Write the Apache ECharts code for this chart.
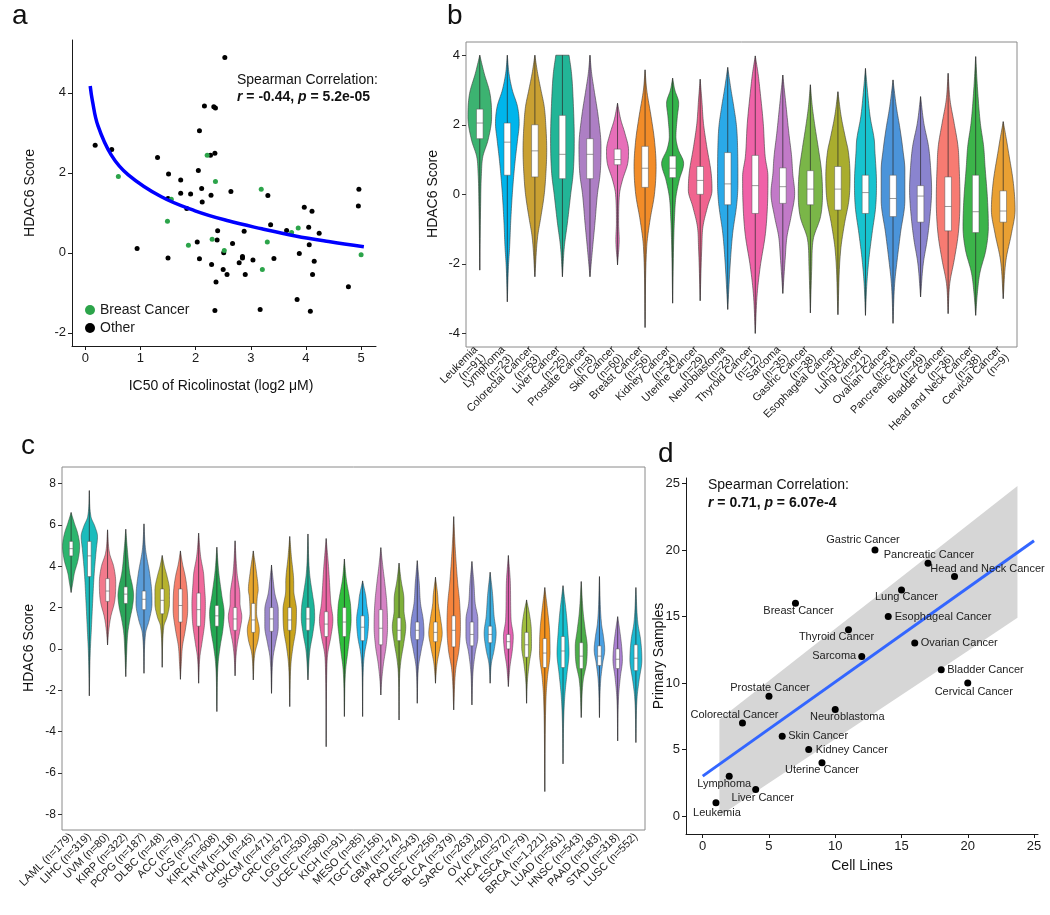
<!DOCTYPE html>
<html><head><meta charset="utf-8">
<script src="https://cdn.jsdelivr.net/npm/echarts@6/dist/echarts.min.js"></script>
<style>html,body{margin:0;padding:0;background:#fff}#chart{width:1050px;height:915px}</style>
</head><body><div id="chart"></div>
<script>
// ================= DATA =================
// ---- Panel a: HDAC6 score vs IC50 ----
const aBreast = [[2.21,2.44],[0.60,1.91],[2.36,1.78],[3.19,1.59],[1.56,1.34],[1.49,0.79],[3.74,0.51],[3.86,0.62],[1.87,0.19],[2.30,0.34],[2.52,0.06],[3.30,0.27],[3.21,-0.42],[5.0,-0.05]];
const aOther = [[2.53,4.88],[0.18,2.69],[0.48,2.58],[2.16,3.67],[2.33,3.65],[2.36,3.62],[2.07,3.05],[1.31,2.38],[2.27,2.44],[2.35,2.49],[1.51,1.97],[1.73,1.82],[2.05,2.06],[1.73,1.49],[1.91,1.47],[2.11,1.61],[2.28,1.44],[2.12,1.27],[2.64,1.53],[3.31,1.43],[1.50,1.36],[1.84,1.11],[3.97,1.14],[4.11,1.04],[4.96,1.59],[4.95,1.17],[2.40,0.55],[2.88,0.54],[3.36,0.70],[3.65,0.56],[4.05,0.64],[4.24,0.49],[0.94,0.11],[2.03,0.27],[2.39,0.32],[2.51,0.0],[2.67,0.23],[4.06,0.20],[3.88,-0.02],[1.50,-0.13],[2.07,-0.15],[2.85,-0.09],[2.85,-0.13],[2.79,-0.25],[3.04,-0.18],[3.42,-0.14],[4.15,-0.21],[2.29,-0.29],[2.50,-0.42],[2.57,-0.54],[2.90,-0.54],[4.12,-0.54],[2.37,-0.73],[4.77,-0.85],[3.84,-1.17],[2.35,-1.44],[3.17,-1.42],[4.08,-1.46]];
const aFitCurve = [[0.09,4.17],[0.13,3.8],[0.23,3.18],[0.47,2.45],[0.78,1.95],[1.38,1.40],[1.99,1.05],[2.59,0.80],[3.2,0.60],[3.81,0.42],[4.41,0.28],[5.05,0.15]];
const aXTicks = [0,1,2,3,4,5];
const aYTicks = [-2,0,2,4];

// ---- Panel b: cell lines ----
const bCats = ['Leukemia','Lymphoma','Colorectal Cancer','Liver Cancer','Prostate Cancer','Skin Cancer','Breast Cancer','Kidney Cancer','Uterine Cancer','Neuroblastoma','Thyroid Cancer','Sarcoma','Gastric Cancer','Esophageal Cancer','Lung Cancer','Ovarian Cancer','Pancreatic Cancer','Bladder Cancer','Head and Neck Cancer','Cervical Cancer'];
const bN = [91,23,63,25,8,60,56,34,29,23,12,35,38,31,212,54,49,36,38,9];
const bQ1 = [1.6,0.55,0.5,0.45,0.45,0.85,0.2,0.48,0.0,-0.3,-0.55,-0.26,-0.3,-0.45,-0.55,-0.64,-0.8,-1.05,-1.1,-0.8];
const bMed = [2.05,1.5,1.25,1.15,1.15,1.0,0.75,0.75,0.4,0.3,0.25,0.22,0.15,0.15,0.05,-0.12,-0.05,-0.35,-0.5,-0.48];
const bQ3 = [2.45,2.05,2.0,2.27,1.6,1.3,1.38,1.1,0.8,1.2,1.12,0.76,0.68,0.8,0.55,0.55,0.25,0.5,0.55,0.1];
// violin outline: [score, half-width as fraction of category width]
const bProf = [
 [[-2.18,0],[-0.35,0.03],[0.6,0.06],[1.08,0.11],[1.56,0.30],[2.23,0.43],[2.9,0.37],[3.48,0.16],[4.0,0]],
 [[-3.09,0],[-2.08,0.04],[-1.5,0.085],[-0.83,0.12],[0,0.18],[0.6,0.24],[1.08,0.30],[1.56,0.37],[2.04,0.43],[2.52,0.37],[3.0,0.18],[3.48,0.06],[4.0,0]],
 [[-2.37,0],[-1.22,0.10],[-0.64,0.22],[0,0.34],[0.6,0.40],[1.27,0.43],[1.95,0.40],[2.52,0.34],[3.0,0.22],[3.48,0.10],[4.0,0]],
 [[-2.37,0],[-1.5,0.07],[-0.83,0.18],[0,0.30],[0.6,0.39],[1.56,0.43],[2.52,0.40],[3.48,0.33],[4.0,0.24]],
 [[-2.37,0],[-1.5,0.10],[-0.83,0.18],[0,0.27],[0.6,0.37],[1.37,0.40],[2.23,0.30],[3.0,0.15],[3.48,0.06],[4.0,0]],
 [[-2.03,0],[-1.3,0.06],[-0.83,0.04],[0,0.07],[0.41,0.18],[0.89,0.37],[1.27,0.40],[1.75,0.27],[2.14,0.12],[2.62,0]],
 [[-3.83,0],[-1.5,0.06],[-0.74,0.18],[0,0.34],[0.8,0.40],[1.56,0.34],[2.23,0.22],[3.0,0.06],[3.58,0]],
 [[-3.13,0],[-1.3,0.04],[-0.64,0.07],[-0.07,0.12],[0.41,0.24],[0.89,0.40],[1.3,0.2],[1.66,0.12],[2.23,0.17],[2.62,0.22],[3.0,0.08],[3.34,0]],
 [[-3.06,0],[-1.5,0.06],[-0.93,0.10],[-0.35,0.27],[0.12,0.43],[0.6,0.40],[1.37,0.24],[2.04,0.12],[2.71,0.06],[3.31,0]],
 [[-3.31,0],[-1.89,0.1],[-1.12,0.18],[-0.26,0.33],[0.31,0.37],[1.28,0.36],[1.95,0.32],[2.52,0.22],[3.0,0.12],[3.65,0]],
 [[-4.0,0],[-2.85,0.07],[-2.08,0.18],[-1.12,0.37],[-0.16,0.45],[0.51,0.46],[1.08,0.36],[2.04,0.29],[3.0,0.17],[3.48,0.1],[3.98,0]],
 [[-2.85,0],[-1.8,0.09],[-1.22,0.15],[-0.64,0.30],[0.03,0.43],[0.6,0.36],[1.08,0.32],[1.75,0.22],[2.52,0.12],[3.43,0]],
 [[-3.41,0],[-2.08,0.05],[-1.31,0.10],[-0.64,0.37],[0.03,0.44],[0.7,0.40],[1.27,0.30],[2.04,0.15],[2.52,0.07],[3.15,0]],
 [[-3.46,0],[-1.6,0.10],[-0.84,0.24],[-0.16,0.40],[0.51,0.44],[1.27,0.37],[1.56,0.29],[2.23,0.12],[2.95,0]],
 [[-3.48,0],[-2.56,0.05],[-1.89,0.12],[-1.12,0.24],[-0.36,0.37],[0.31,0.40],[1.27,0.34],[1.56,0.32],[2.23,0.17],[3.0,0.07],[3.62,0]],
 [[-3.71,0],[-2.56,0.06],[-1.89,0.15],[-1.12,0.27],[-0.16,0.43],[0.7,0.43],[1.27,0.36],[1.85,0.26],[2.52,0.12],[3.29,0]],
 [[-2.95,0],[-1.98,0.10],[-1.31,0.24],[-0.64,0.34],[0.12,0.40],[0.7,0.37],[1.37,0.29],[2.04,0.12],[2.81,0]],
 [[-3.43,0],[-2.56,0.06],[-1.89,0.22],[-1.12,0.37],[-0.16,0.43],[0.8,0.40],[1.37,0.36],[2.04,0.22],[2.71,0.07],[3.48,0]],
 [[-3.48,0],[-2.85,0.06],[-2.27,0.15],[-1.6,0.37],[-0.93,0.46],[-0.16,0.43],[0.8,0.34],[1.37,0.29],[2.04,0.17],[3.0,0.07],[3.96,0]],
 [[-3.0,0],[-1.89,0.10],[-1.12,0.30],[-0.45,0.43],[0.31,0.37],[1.27,0.18],[1.56,0.12],[2.09,0]]
];
const bYTicks = [-4,-2,0,2,4];

// ---- Panel c: primary tumours ----
const cCats = ['LAML','LIHC','UVM','KIRP','PCPG','DLBC','ACC','UCS','KIRC','THYM','CHOL','SKCM','CRC','LGG','UCEC','KICH','MESO','TGCT','GBM','PRAD','CESC','BLCA','SARC','OV','THCA','ESCA','BRCA','LUAD','HNSC','PAAD','STAD','LUSC'];
const cN = [179,319,80,322,187,48,79,57,608,118,45,471,672,530,580,91,85,156,174,543,256,379,263,420,572,79,1221,561,543,183,318,552];
const cQ1 = [4.5,3.5,2.3,2.2,1.9,1.7,1.3,1.1,1.1,0.9,0.8,0.85,0.9,0.9,0.6,0.6,0.4,0.2,0.4,0.45,0.35,0.1,0.15,0.3,0.0,-0.4,-0.9,-0.9,-0.95,-0.8,-0.95,-1.05];
const cMed = [4.85,4.5,2.8,2.65,2.4,2.35,2.1,1.9,1.6,1.45,1.4,1.45,1.4,1.45,1.2,1.3,1.05,1.0,0.9,0.9,0.8,0.9,0.7,0.7,0.35,0.2,-0.2,-0.1,-0.35,-0.35,-0.5,-0.45];
const cQ3 = [5.2,5.2,3.4,3.0,2.8,2.9,2.9,2.7,2.1,2.0,2.2,2.0,2.0,2.0,1.8,2.0,1.6,1.9,1.5,1.3,1.3,1.6,1.3,1.1,0.7,0.8,0.5,0.6,0.3,0.15,0.0,0.2];
const cProf = [
 [[2.73,0],[3.18,0.09],[3.66,0.18],[4.3,0.38],[4.95,0.47],[5.6,0.36],[6.08,0.18],[6.6,0]],
 [[-2.27,0],[-0.2,0.05],[0.92,0.11],[2.2,0.18],[3.66,0.27],[4.79,0.38],[5.44,0.45],[5.92,0.31],[6.4,0.09],[7.66,0]],
 [[0.19,0],[0.92,0.07],[1.56,0.18],[2.2,0.37],[2.5,0.42],[3.18,0.45],[3.98,0.34],[4.63,0.11],[5.76,0]],
 [[-1.34,0],[-0.2,0.05],[0.76,0.11],[1.4,0.22],[2.05,0.37],[2.6,0.43],[3.0,0.38],[3.66,0.22],[4.79,0.09],[5.79,0]],
 [[-1.18,0],[0.76,0.09],[1.4,0.29],[2.2,0.44],[2.85,0.42],[3.66,0.31],[4.79,0.09],[6.05,0]],
 [[-0.89,0],[1.08,0.09],[1.56,0.27],[2.2,0.40],[2.85,0.40],[3.5,0.27],[4.0,0.12],[4.52,0]],
 [[-1.47,0],[-0.69,0.05],[0.11,0.11],[0.92,0.27],[1.89,0.40],[2.85,0.37],[3.5,0.27],[4.1,0.12],[4.74,0]],
 [[-1.66,0],[-0.37,0.07],[0.27,0.18],[1.24,0.33],[2.2,0.37],[3.18,0.31],[3.66,0.27],[4.47,0.11],[5.6,0]],
 [[-3.03,0],[-0.69,0.07],[0.11,0.18],[0.92,0.33],[1.73,0.40],[2.6,0.27],[3.66,0.11],[4.92,0]],
 [[-1.3,0],[-0.37,0.05],[0.27,0.13],[0.92,0.27],[1.56,0.37],[2.2,0.27],[2.53,0.27],[3.66,0.11],[5.23,0]],
 [[-1.5,0],[-0.2,0.09],[0.44,0.27],[0.92,0.33],[1.73,0.18],[2.53,0.22],[2.85,0.27],[3.66,0.18],[4.74,0]],
 [[-2.15,0],[-0.37,0.09],[0.27,0.22],[1.08,0.37],[1.89,0.37],[2.69,0.18],[3.18,0.11],[4.06,0]],
 [[-2.79,0],[-0.69,0.07],[0.11,0.18],[0.92,0.33],[1.89,0.37],[2.85,0.22],[3.18,0.22],[4.47,0.09],[5.44,0]],
 [[-1.5,0],[-0.05,0.11],[0.76,0.27],[1.56,0.37],[2.2,0.33],[2.53,0.27],[3.66,0.09],[5.56,0]],
 [[-4.73,0],[-0.9,0.04],[-0.2,0.09],[0.6,0.26],[1.4,0.37],[2.2,0.26],[2.69,0.22],[3.98,0.13],[5.34,0]],
 [[-3.27,0],[-1.0,0.07],[-0.2,0.18],[0.6,0.29],[1.4,0.37],[2.2,0.33],[2.53,0.27],[3.34,0.11],[4.35,0]],
 [[-3.27,0],[-0.9,0.04],[-0.2,0.11],[0.6,0.27],[1.4,0.33],[2.2,0.22],[2.53,0.18],[3.29,0]],
 [[-2.23,0],[-1.5,0.05],[-0.69,0.15],[0.11,0.29],[1.08,0.37],[2.2,0.33],[3.18,0.22],[3.98,0.11],[4.9,0]],
 [[-3.44,0],[-1.2,0.04],[-0.53,0.11],[0.27,0.26],[1.08,0.37],[1.89,0.27],[2.37,0.27],[3.34,0.11],[4.15,0]],
 [[-2.63,0],[-0.85,0.07],[-0.05,0.22],[0.76,0.37],[1.4,0.33],[2.2,0.18],[3.18,0.11],[4.27,0]],
 [[-1.66,0],[-0.69,0.09],[0.11,0.26],[0.76,0.37],[1.4,0.29],[2.2,0.15],[2.53,0.13],[3.47,0]],
 [[-2.95,0],[-1.0,0.11],[-0.05,0.29],[1.08,0.37],[2.2,0.33],[3.18,0.22],[4.79,0.09],[6.4,0]],
 [[-2.71,0],[-1.0,0.07],[-0.2,0.18],[0.6,0.33],[1.4,0.33],[2.2,0.18],[3.18,0.11],[4.23,0]],
 [[-1.66,0],[-0.69,0.07],[-0.05,0.22],[0.76,0.33],[1.56,0.22],[2.69,0.13],[3.71,0]],
 [[-1.82,0],[-0.85,0.09],[-0.05,0.22],[0.6,0.27],[1.4,0.15],[3.18,0.11],[4.52,0]],
 [[-2.63,0],[-1.5,0.05],[-0.69,0.15],[0.11,0.27],[0.92,0.26],[1.73,0.15],[2.37,0]],
 [[-6.9,0],[-2.3,0.07],[-1.34,0.15],[-0.2,0.29],[0.92,0.26],[1.89,0.15],[2.97,0]],
 [[-5.56,0],[-3.1,0.05],[-2.15,0.11],[-1.18,0.22],[-0.2,0.33],[0.76,0.27],[1.73,0.18],[3.06,0]],
 [[-3.32,0],[-1.5,0.11],[-0.69,0.29],[0.11,0.33],[0.92,0.22],[1.73,0.11],[3.26,0]],
 [[-3.32,0],[-1.5,0.07],[-0.69,0.18],[-0.05,0.29],[0.6,0.22],[1.24,0.11],[3.5,0]],
 [[-4.45,0],[-2.3,0.05],[-1.34,0.15],[-0.53,0.26],[0.11,0.22],[0.92,0.11],[1.56,0]],
 [[-4.53,0],[-2.3,0.07],[-1.5,0.18],[-0.53,0.33],[0.44,0.26],[1.24,0.11],[2.97,0]]
];
const cYTicks = [-8,-6,-4,-2,0,2,4,6,8];

// ---- Panel d: cell lines vs primary samples ----
const dNames = ['Leukemia','Lymphoma','Colorectal Cancer','Liver Cancer','Prostate Cancer','Skin Cancer','Breast Cancer','Kidney Cancer','Uterine Cancer','Neuroblastoma','Thyroid Cancer','Sarcoma','Gastric Cancer','Esophageal Cancer','Lung Cancer','Ovarian Cancer','Pancreatic Cancer','Bladder Cancer','Head and Neck Cancer','Cervical Cancer'];
const dCellLines = [1,2,3,4,5,6,7,8,9,10,11,12,13,14,15,16,17,18,19,20];
const dPrimary = [1,3,7,2,9,6,16,5,4,8,14,12,20,15,17,13,19,11,18,10];
const dFitLine = [[0,3.0],[25,20.7]];
const dBandX = [1.26,5,10,15,20,23.75];
const dBandLo = [0.0,2.48,5.79,9.1,12.41,14.9];
const dBandHi = [7.25,10.17,14.07,17.97,21.87,24.8];
const dTicks = [0,5,10,15,20,25];

// ================= STYLE =================
const FONT = 'Liberation Sans, Arial, sans-serif';
const bColors = ['#3cb371','#00b5ec','#c9a032','#22b597','#ad7fc4','#e76fb9','#f28c28','#33b34a','#f0648f','#2aa9e8','#f062a8','#c27ac8','#7ab648','#a9ad2e','#17c3cf','#4b94da','#8a84cf','#f77b72','#3cb44a','#e9a033'];
const cColors = ['#2cb56e','#1bbcbc','#f27a8c','#2aa65a','#5a9cd8','#b6b22e','#f57f6c','#f0699b','#23a852','#ef6fab','#e6a52c','#9b88cc','#c9a41d','#1bb59a','#ea66a3','#2fbf3c','#20b6ea','#d683c5','#7eb03a','#8088d2','#f2a12a','#f5843c','#9a8ed6','#3baee0','#e463b3','#9fbd3c','#f3921d','#14c1d0','#4cae4a','#4aa0e2','#aa80d2','#1cbad2'];
// label anchor offsets (px) for panel d, same order as dNames
const dLabelPlace = [[1,10.5,'center'],[-5,7.5,'center'],[-8,-8,'center'],[7,9,'center'],[1,-8,'center'],[6,0,'left'],[3,7.5,'center'],[7,0,'left'],[0,7.5,'center'],[12,7.5,'center'],[-12,7.5,'center'],[-5.5,0,'right'],[-12,-10,'center'],[6.5,0,'left'],[5,7.5,'center'],[6,0,'left'],[1,-8,'center'],[6,0,'left'],[33,-8,'center'],[6,9,'center']];

// monotone cubic interpolation of a violin outline (rendering only)
function sampleOutline(prof, steps) {
  const xs = prof.map(p => p[0]), ys = prof.map(p => p[1]);
  const k = xs.length, d = [], m = new Array(k);
  for (let i = 0; i < k - 1; i++) d.push((ys[i + 1] - ys[i]) / (xs[i + 1] - xs[i]));
  m[0] = d[0]; m[k - 1] = d[k - 2];
  for (let i = 1; i < k - 1; i++) m[i] = (d[i - 1] * d[i] <= 0) ? 0 : (d[i - 1] + d[i]) / 2;
  for (let i = 0; i < k - 1; i++) {
    if (d[i] === 0) { m[i] = 0; m[i + 1] = 0; continue; }
    const a = m[i] / d[i], b = m[i + 1] / d[i], s = a * a + b * b;
    if (s > 9) { const t = 3 / Math.sqrt(s); m[i] = t * a * d[i]; m[i + 1] = t * b * d[i]; }
  }
  const out = [];
  for (let i = 0; i < k - 1; i++) {
    const h = xs[i + 1] - xs[i];
    for (let j = 0; j < steps; j++) {
      const t = j / steps, t2 = t * t, t3 = t2 * t;
      const v = (2 * t3 - 3 * t2 + 1) * ys[i] + (t3 - 2 * t2 + t) * h * m[i] + (-2 * t3 + 3 * t2) * ys[i + 1] + (t3 - t2) * h * m[i + 1];
      out.push([xs[i] + t * h, Math.max(0, v)]);
    }
  }
  out.push([xs[k - 1], ys[k - 1]]);
  return out;
}

function makeViolin(prof, q1, med, q3, colors, boxHalf, lw) {
  const samples = prof.map(p => sampleOutline(p, 10));
  return function (params, api) {
    const i = api.value(0);
    const band = api.size([1, 0])[0];
    const cx = api.coord([i, 0])[0];
    const left = [], right = [];
    samples[i].forEach(([y, w]) => {
      const py = api.coord([i, y])[1];
      left.push([cx - w * band, py]);
      right.push([cx + w * band, py]);
    });
    const pts = left.concat(right.reverse());
    const p = prof[i];
    const yLo = api.coord([i, p[0][0]])[1], yHi = api.coord([i, p[p.length - 1][0]])[1];
    const yQ1 = api.coord([i, q1[i]])[1], yQ3 = api.coord([i, q3[i]])[1], yMed = api.coord([i, med[i]])[1];
    const bh = boxHalf * band;
    return {
      type: 'group',
      children: [
        { type: 'polygon', shape: { points: pts }, style: { fill: colors[i], stroke: '#3a3a3a', lineWidth: lw } },
        { type: 'line', shape: { x1: cx, y1: yLo, x2: cx, y2: yHi }, style: { stroke: '#2a2a2a', lineWidth: 0.7 } },
        { type: 'rect', shape: { x: cx - bh, y: yQ3, width: 2 * bh, height: yQ1 - yQ3 }, style: { fill: '#ffffff', stroke: '#555', lineWidth: 0.5 } },
        { type: 'line', shape: { x1: cx - bh, y1: yMed, x2: cx + bh, y2: yMed }, style: { stroke: '#555', lineWidth: 0.6 } }
      ]
    };
  };
}

const tickLbl = (size) => ({ fontSize: size, color: '#1a1a1a', fontFamily: FONT });
const blackLine = { show: true, onZero: false, lineStyle: { color: '#1a1a1a', width: 1 } };

const chart = echarts.init(document.getElementById('chart'), null, { renderer: 'canvas' });
const option = {
  animation: false,
  backgroundColor: '#ffffff',
  textStyle: { fontFamily: FONT },
  grid: [
    { left: 72, top: 40, width: 304, height: 306 },
    { left: 466, top: 42, width: 551, height: 305, show: true, borderColor: '#8a8a8a', borderWidth: 1 },
    { left: 62, top: 467, width: 583, height: 363, show: true, borderColor: '#8a8a8a', borderWidth: 1 },
    { left: 686, top: 478, width: 352, height: 356 }
  ],
  xAxis: [
    { gridIndex: 0, type: 'value', min: -0.24, max: 5.27, splitLine: { show: false },
      axisLine: blackLine,
      axisTick: { length: 4, customValues: aXTicks, lineStyle: { color: '#1a1a1a' } },
      axisLabel: Object.assign({ customValues: aXTicks, margin: 6 }, tickLbl(13)) },
    { gridIndex: 1, type: 'category', data: bCats.map((c, i) => c + '\n(n=' + bN[i] + ')'),
      axisLine: { show: false, onZero: false }, splitLine: { show: false },
      axisTick: { alignWithLabel: true, interval: 0, length: 4, lineStyle: { color: '#333' } },
      axisLabel: Object.assign({ interval: 0, rotate: 45, margin: 5, lineHeight: 11 }, tickLbl(11)) },
    { gridIndex: 2, type: 'category', data: cCats.map((c, i) => c + ' (n=' + cN[i].toLocaleString('en-US') + ')'),
      axisLine: { show: false, onZero: false }, splitLine: { show: false },
      axisTick: { alignWithLabel: true, interval: 0, length: 4, lineStyle: { color: '#333' } },
      axisLabel: Object.assign({ interval: 0, rotate: 45, margin: 5 }, tickLbl(11)) },
    { gridIndex: 3, type: 'value', min: -1.26, max: 25.3, splitLine: { show: false },
      axisLine: blackLine,
      axisTick: { length: 4, customValues: dTicks, lineStyle: { color: '#1a1a1a' } },
      axisLabel: Object.assign({ customValues: dTicks, margin: 6 }, tickLbl(13)) }
  ],
  yAxis: [
    { gridIndex: 0, type: 'value', min: -2.33, max: 5.32, splitLine: { show: false },
      axisLine: blackLine,
      axisTick: { show: true, length: 4, customValues: aYTicks, lineStyle: { color: '#1a1a1a' } },
      axisLabel: Object.assign({ customValues: aYTicks, margin: 6 }, tickLbl(13)) },
    { gridIndex: 1, type: 'value', min: -4.39, max: 4.38, splitLine: { show: false },
      axisLine: { show: false, onZero: false },
      axisTick: { show: true, length: 4, customValues: bYTicks, lineStyle: { color: '#333' } },
      axisLabel: Object.assign({ customValues: bYTicks, margin: 6 }, tickLbl(13)) },
    { gridIndex: 2, type: 'value', min: -8.76, max: 8.8, splitLine: { show: false },
      axisLine: { show: false, onZero: false },
      axisTick: { show: true, length: 4, customValues: cYTicks, lineStyle: { color: '#333' } },
      axisLabel: Object.assign({ customValues: cYTicks, margin: 6 }, tickLbl(12)) },
    { gridIndex: 3, type: 'value', min: -1.35, max: 25.41, splitLine: { show: false },
      axisLine: blackLine,
      axisTick: { show: true, length: 4, customValues: dTicks, lineStyle: { color: '#1a1a1a' } },
      axisLabel: Object.assign({ customValues: dTicks, margin: 6 }, tickLbl(13)) }
  ],
  legend: {
    data: [{ name: 'Breast Cancer', icon: 'circle' }, { name: 'Other', icon: 'circle' }],
    orient: 'vertical', left: 80, top: 298, itemWidth: 10, itemHeight: 10, itemGap: 4,
    selectedMode: false, textStyle: { fontSize: 14, color: '#1a1a1a', fontFamily: FONT }
  },
  series: [
    { name: 'Other', type: 'scatter', xAxisIndex: 0, yAxisIndex: 0, data: aOther, symbolSize: 5, itemStyle: { color: '#000000', opacity: 1 }, z: 3 },
    { name: 'Breast Cancer', type: 'scatter', xAxisIndex: 0, yAxisIndex: 0, data: aBreast, symbolSize: 5, itemStyle: { color: '#2ca44a', opacity: 1 }, z: 3 },
    { name: 'fit', type: 'line', xAxisIndex: 0, yAxisIndex: 0, data: aFitCurve, smooth: 0.4, showSymbol: false, symbol: 'none',
      lineStyle: { color: '#0000ff', width: 3.5 }, z: 4 },
    { name: 'b', type: 'custom', xAxisIndex: 1, yAxisIndex: 1, data: bCats.map((c, i) => [i, bMed[i]]),
      encode: { x: 0, y: 1 }, renderItem: makeViolin(bProf, bQ1, bMed, bQ3, bColors, 0.12, 0.6) },
    { name: 'c', type: 'custom', xAxisIndex: 2, yAxisIndex: 2, data: cCats.map((c, i) => [i, cMed[i]]),
      encode: { x: 0, y: 1 }, renderItem: makeViolin(cProf, cQ1, cMed, cQ3, cColors, 0.1, 0.5) },
    { name: 'band', type: 'custom', xAxisIndex: 3, yAxisIndex: 3, data: [[0, 0]], z: 1,
      renderItem: function (params, api) {
        const up = dBandX.map((x, i) => api.coord([x, dBandHi[i]]));
        const lo = dBandX.map((x, i) => api.coord([x, dBandLo[i]])).reverse();
        return { type: 'polygon', shape: { points: up.concat(lo) }, style: { fill: '#d6d6d6' } };
      } },
    { name: 'dfit', type: 'line', xAxisIndex: 3, yAxisIndex: 3, data: dFitLine, showSymbol: false, symbol: 'none',
      lineStyle: { color: '#3366ff', width: 3 }, z: 2 },
    { name: 'd', type: 'scatter', xAxisIndex: 3, yAxisIndex: 3, symbolSize: 7, itemStyle: { color: '#000', opacity: 1 }, z: 3,
      data: dNames.map((n, i) => ({
        name: n, value: [dCellLines[i], dPrimary[i]],
        label: { show: true, formatter: '{b}', position: [3.5 + dLabelPlace[i][0], 3.5 + dLabelPlace[i][1]],
          align: dLabelPlace[i][2], verticalAlign: 'middle', fontSize: 11, color: '#222', fontFamily: FONT }
      })) }
  ],
  graphic: [
    { type: 'text', left: 12, top: 2, style: { text: 'a', fontSize: 28, fill: '#111', fontFamily: FONT } },
    { type: 'text', left: 447, top: 2, style: { text: 'b', fontSize: 28, fill: '#111', fontFamily: FONT } },
    { type: 'text', left: 21, top: 432, style: { text: 'c', fontSize: 28, fill: '#111', fontFamily: FONT } },
    { type: 'text', left: 658, top: 440, style: { text: 'd', fontSize: 28, fill: '#111', fontFamily: FONT } },
    { type: 'text', x: 237, y: 80, style: { text: 'Spearman Correlation:', fontSize: 14, fill: '#111', fontFamily: FONT, verticalAlign: 'middle' } },
    { type: 'text', x: 237, y: 97, style: { text: '{i|r} = -0.44, {i|p} = 5.2e-05', fontSize: 14, fontWeight: 'bold', fill: '#111', fontFamily: FONT, verticalAlign: 'middle',
        rich: { i: { fontStyle: 'italic', fontWeight: 'bold', fontSize: 14, fontFamily: FONT, fill: '#111' } } } },
    { type: 'text', x: 708, y: 485, style: { text: 'Spearman Correlation:', fontSize: 14, fill: '#111', fontFamily: FONT, verticalAlign: 'middle' } },
    { type: 'text', x: 708, y: 503, style: { text: '{i|r} = 0.71, {i|p} = 6.07e-4', fontSize: 14, fontWeight: 'bold', fill: '#111', fontFamily: FONT, verticalAlign: 'middle',
        rich: { i: { fontStyle: 'italic', fontWeight: 'bold', fontSize: 14, fontFamily: FONT, fill: '#111' } } } },
    { type: 'text', x: 30, y: 193, rotation: Math.PI / 2, style: { text: 'HDAC6 Score', fontSize: 14, fill: '#111', fontFamily: FONT, align: 'center', verticalAlign: 'middle' } },
    { type: 'text', x: 221, y: 386, style: { text: 'IC50 of Ricolinostat (log2 μM)', fontSize: 14, fill: '#111', fontFamily: FONT, align: 'center', verticalAlign: 'middle' } },
    { type: 'text', x: 433, y: 194, rotation: Math.PI / 2, style: { text: 'HDAC6 Score', fontSize: 14, fill: '#111', fontFamily: FONT, align: 'center', verticalAlign: 'middle' } },
    { type: 'text', x: 29, y: 648, rotation: Math.PI / 2, style: { text: 'HDAC6 Score', fontSize: 14, fill: '#111', fontFamily: FONT, align: 'center', verticalAlign: 'middle' } },
    { type: 'text', x: 862, y: 866, style: { text: 'Cell Lines', fontSize: 14, fill: '#111', fontFamily: FONT, align: 'center', verticalAlign: 'middle' } },
    { type: 'text', x: 659, y: 656, rotation: Math.PI / 2, style: { text: 'Primary Samples', fontSize: 14, fill: '#111', fontFamily: FONT, align: 'center', verticalAlign: 'middle' } }
  ]
};
chart.setOption(option);
</script>
</body></html>
